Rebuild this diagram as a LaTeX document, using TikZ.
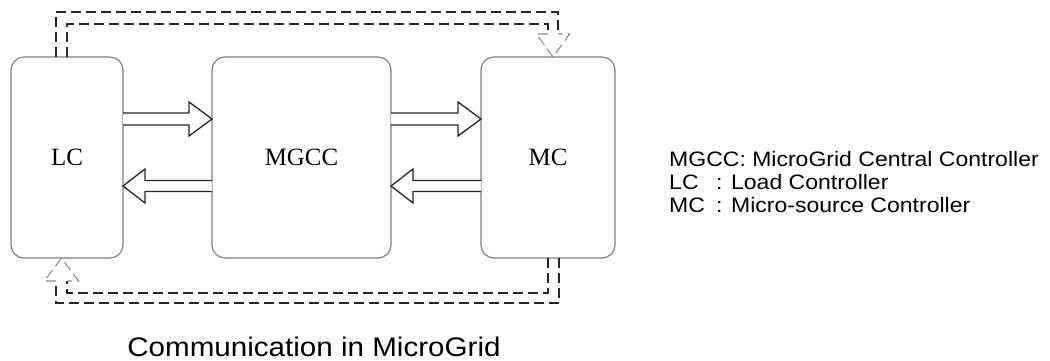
\documentclass[tikz,border=0pt]{standalone}
\usepackage{fontspec}
\setmainfont{Liberation Serif}
\newfontfamily\lsans[FakeStretch=1.1]{Liberation Sans}
\usetikzlibrary{calc}
\tikzset{
  box/.style={draw=black!50, line width=1.2bp, rounded corners=13bp, inner sep=0pt, outer sep=0pt,
    minimum height=201bp, font=\fontsize{25}{30}\selectfont},
  flex/.style={draw=black!85, fill=white, line width=1.3bp, line join=miter},
  dsh/.style={draw=black!85, line width=1.3bp, dash pattern=on 10bp off 5bp},
  dshead/.style={draw=black!45, line width=1.1bp, dash pattern=on 10bp off 5bp},
  legend/.style={anchor=base west, inner sep=0pt, font=\lsans\fontsize{21}{25}\selectfont},
}
\begin{document}
\begin{tikzpicture}[x=1bp,y=-1bp]
\useasboundingbox[fill=white] (0,0) rectangle (1050,360);

\node[box, minimum width=112bp] (LC) at (67,157.5) {LC};
\node[box, minimum width=179bp] (MGCC) at (301.5,157.5) {MGCC};
\node[box, minimum width=134bp] (MC) at (548,157.5) {MC};

% right-pointing flex arrows
\coordinate (a1s) at ([yshift=38.5bp]LC.east);
\coordinate (a1t) at ([yshift=38.5bp]MGCC.west);
\coordinate (a2s) at ([yshift=38.5bp]MGCC.east);
\coordinate (a2t) at ([yshift=38.5bp]MC.west);
\draw[flex] ($(a1s)+(0,-6)$) -- ($(a1t)+(-23,-6)$) -- ($(a1t)+(-23,-17)$) -- (a1t) -- ($(a1t)+(-23,17)$) -- ($(a1t)+(-23,6)$) -- ($(a1s)+(0,6)$);
\draw[flex] ($(a2s)+(0,-6)$) -- ($(a2t)+(-23,-6)$) -- ($(a2t)+(-23,-17)$) -- (a2t) -- ($(a2t)+(-23,17)$) -- ($(a2t)+(-23,6)$) -- ($(a2s)+(0,6)$);

% left-pointing flex arrows
\coordinate (b1s) at ([yshift=-28.5bp]MGCC.west);
\coordinate (b1t) at ([yshift=-28.5bp]LC.east);
\coordinate (b2s) at ([yshift=-28.5bp]MC.west);
\coordinate (b2t) at ([yshift=-28.5bp]MGCC.east);
\draw[flex] ($(b1s)+(0,-5.5)$) -- ($(b1t)+(22,-5.5)$) -- ($(b1t)+(22,-17)$) -- (b1t) -- ($(b1t)+(22,17)$) -- ($(b1t)+(22,5.5)$) -- ($(b1s)+(0,5.5)$);
\draw[flex] ($(b2s)+(0,-5.5)$) -- ($(b2t)+(22,-5.5)$) -- ($(b2t)+(22,-17)$) -- (b2t) -- ($(b2t)+(22,17)$) -- ($(b2t)+(22,5.5)$) -- ($(b2s)+(0,5.5)$);

% top dashed double connector LC -> MC
\coordinate (t1) at ([xshift=-11bp]LC.north);
\coordinate (t2) at (LC.north);
\coordinate (tt) at ([xshift=5bp]MC.north);
\draw[dsh] (t1) |- ($(tt)+(5,-45)$) -- ($(tt)+(5,-23)$);
\draw[dsh] (t2) |- ($(tt)+(-5,-33)$) -- ($(tt)+(-5,-23)$);
\draw[dshead] ($(tt)+(-5,-23)$) -- ($(tt)+(-16.5,-23)$) -- (tt) -- ($(tt)+(16.5,-23)$) -- ($(tt)+(5,-23)$);

% bottom dashed double connector MC -> LC
\coordinate (bm) at ([xshift=5.5bp]MC.south);
\coordinate (bl) at ([xshift=-5.5bp]LC.south);
\draw[dsh] ($(bm)+(-5.5,0)$) |- ($(bl)+(5.5,35)$) -- ($(bl)+(5.5,23)$);
\draw[dsh] ($(bm)+(5.5,0)$) |- ($(bl)+(-5.5,45)$) -- ($(bl)+(-5.5,23)$);
\draw[dshead] ($(bl)+(-5.5,23)$) -- ($(bl)+(-17,23)$) -- (bl) -- ($(bl)+(17,23)$) -- ($(bl)+(5.5,23)$);

% legend
\node[legend] (L1) at (669,166) {MGCC: MicroGrid Central Controller};
\node[legend] (L2a) at (669,189) {LC};
\node[legend] (L2b) at (716,189) {: Load Controller};
\node[legend] (L3a) at (669,212) {MC};
\node[legend] (L3b) at (716,212) {: Micro-source Controller};

% title
\node[anchor=base, inner sep=0pt, font=\lsans\fontsize{27}{32}\selectfont] (title) at (314,356) {Communication in MicroGrid};
\end{tikzpicture}
\end{document}
